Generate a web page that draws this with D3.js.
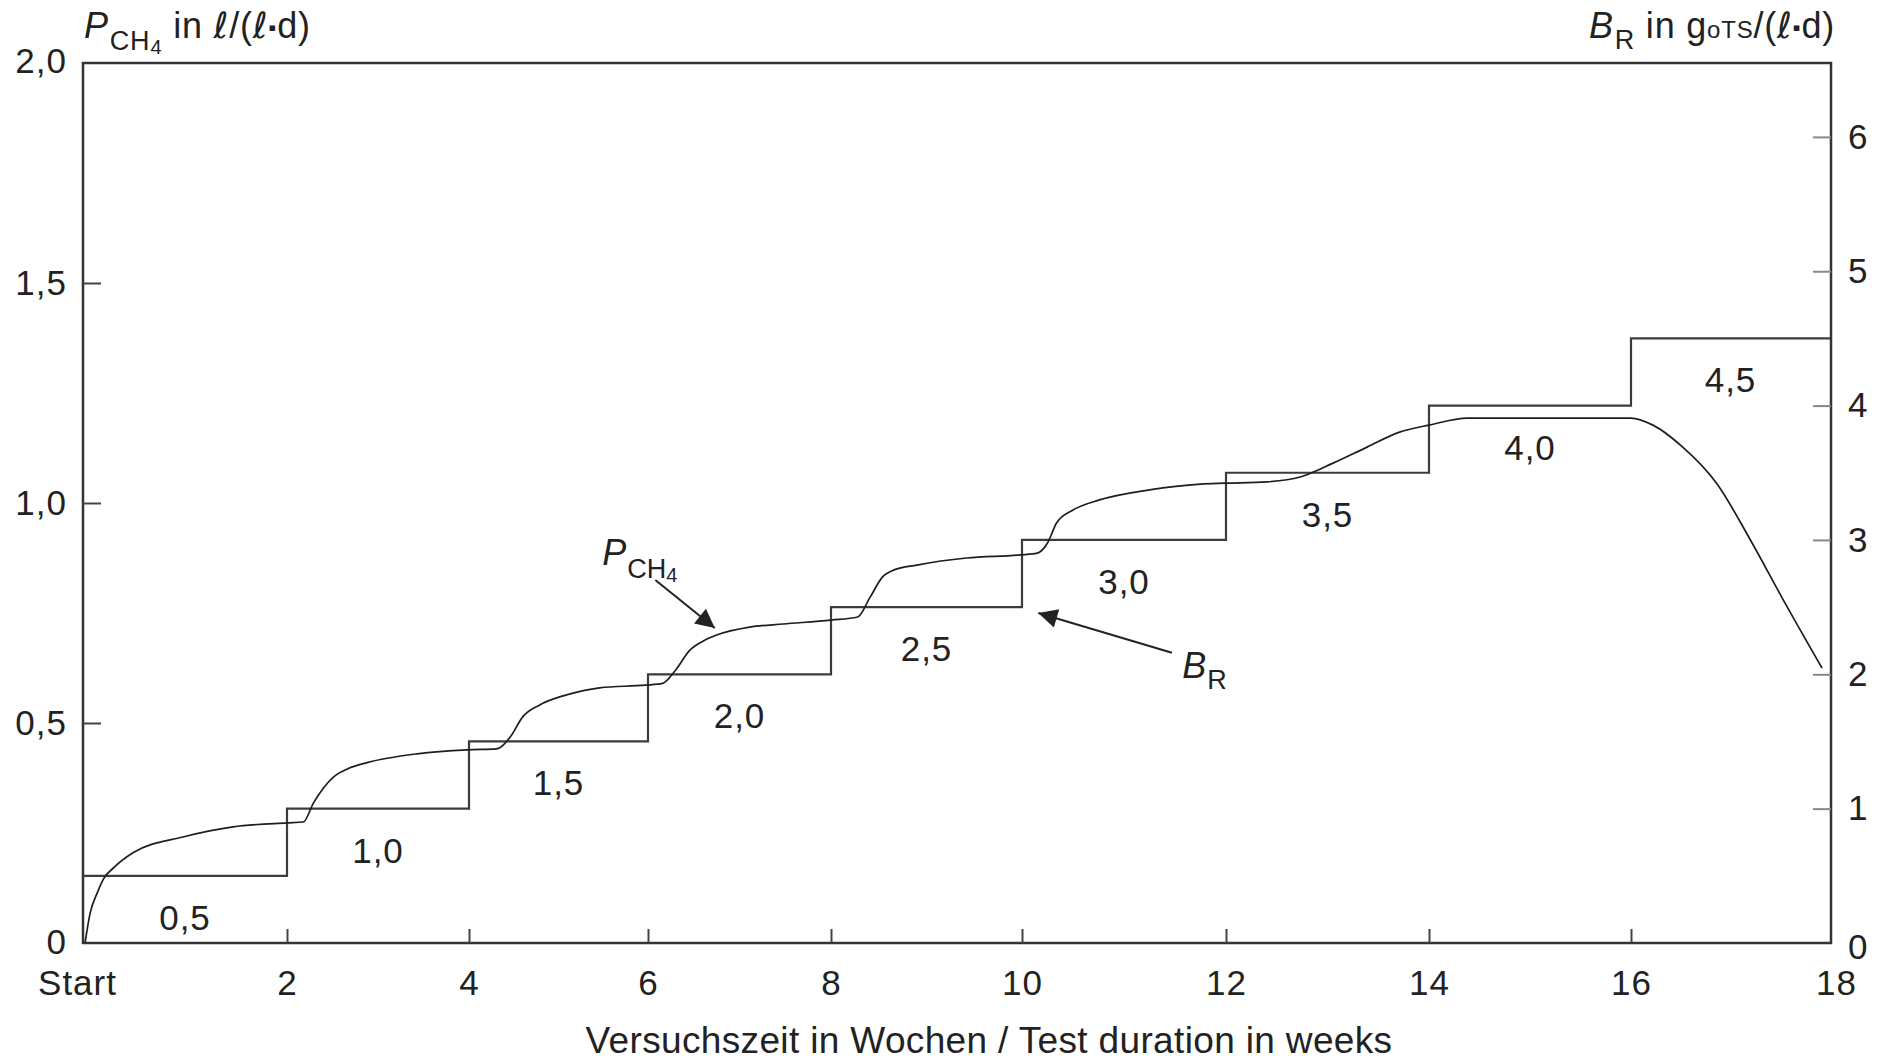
<!DOCTYPE html>
<html><head><meta charset="utf-8">
<script src="https://cdn.jsdelivr.net/npm/d3@7"></script>
<style>
body{margin:0;background:#fff}
svg{display:block}
text{font-family:"Liberation Sans",Arial,Helvetica,sans-serif;fill:#222}
</style>
</head><body>
<svg id="c" width="1877" height="1062"></svg>
<script>
// ---- data ----
const xTickValues = [0, 2, 4, 6, 8, 10, 12, 14, 16, 18];
const xTickLabels = ["Start", "2", "4", "6", "8", "10", "12", "14", "16", "18"];
const leftTickValues = [0, 0.5, 1.0, 1.5, 2.0];
const leftTickLabels = ["0", "0,5", "1,0", "1,5", "2,0"];
const rightTickValues = [0, 1, 2, 3, 4, 5, 6];
const rightTickLabels = ["0", "1", "2", "3", "4", "5", "6"];
const brStartWeeks = [0, 2, 4, 6, 8, 10, 12, 14, 16];
const brValues = [0.5, 1.0, 1.5, 2.0, 2.5, 3.0, 3.5, 4.0, 4.5];
const brLabels = ["0,5", "1,0", "1,5", "2,0", "2,5", "3,0", "3,5", "4,0", "4,5"];
const pchWeeks = [0.02, 0.07, 0.14, 0.2, 0.31, 0.49, 0.98, 1.47, 2.0,
  2.18, 2.29, 2.51, 2.68, 2.88, 3.43, 3.98,
  4.31, 4.46, 4.60, 4.79, 5.09, 5.46, 5.97,
  6.16, 6.30, 6.46, 6.60, 6.75, 7.11, 7.48, 8.0,
  8.28, 8.41, 8.54, 8.66, 8.90, 9.42, 9.98,
  10.15, 10.25, 10.34, 10.50, 10.76, 11.25, 11.75, 12.0,
  12.40, 12.73, 13.05, 13.39, 13.71, 14.0,
  14.38, 15.2, 16.0,
  16.22, 16.52, 16.86, 17.20, 17.53, 17.92];
const pchValues = [0, 0.068, 0.114, 0.145, 0.173, 0.205, 0.241, 0.264, 0.273,
  0.275, 0.318, 0.377, 0.397, 0.41, 0.43, 0.439,
  0.441, 0.468, 0.514, 0.541, 0.564, 0.58, 0.586,
  0.59, 0.62, 0.666, 0.686, 0.70, 0.718, 0.725, 0.734,
  0.741, 0.786, 0.832, 0.848, 0.859, 0.875, 0.882,
  0.886, 0.909, 0.955, 0.984, 1.007, 1.03, 1.043, 1.045,
  1.048, 1.059, 1.09, 1.127, 1.161, 1.177,
  1.193, 1.193, 1.193,
  1.177, 1.127, 1.045, 0.916, 0.78, 0.625];

// ---- layout ----
const L = 83, R = 1831, T = 63, B = 943;
const svg = d3.select("#c");
// hand-drawn x axis: tick spacing is not uniform in the original
const xAxisStops = [83, 287, 469, 648, 831, 1022, 1226, 1429, 1631, 1830];
const x = d3.scaleLinear().domain(xTickValues).range(xAxisStops);
const yL = d3.scaleLinear().domain([0, 2]).range([B, T]);
const yR = d3.scaleLinear().domain([0, 6.55]).range([B, T]);

const FS = 35, LS = 1;
const ink = "#2a2a2a";
const ellFont = '"DejaVu Sans",sans-serif';

// frame
svg.append("rect").attr("x", L).attr("y", T).attr("width", R - L).attr("height", B - T)
  .attr("fill", "none").attr("stroke", "#333").attr("stroke-width", 2.5);

function styleAxis(g, tickColor) {
  g.select(".domain").remove();
  g.selectAll(".tick line").attr("stroke", tickColor).attr("stroke-width", 2);
  g.selectAll(".tick text").attr("font-size", FS).attr("letter-spacing", LS).attr("fill", ink)
    .attr("font-family", '"Liberation Sans",Arial,sans-serif');
}

// bottom axis
const gx = svg.append("g").attr("transform", `translate(0,${B})`)
  .call(d3.axisBottom(x).tickValues(xTickValues).tickSize(-14).tickPadding(27)
    .tickFormat((d, i) => xTickLabels[i]));
styleAxis(gx, "#444");
gx.selectAll(".tick").filter(d => d === 0 || d === 18).select("line").remove();
gx.selectAll(".tick").filter(d => d === 0).select("text").attr("dx", -6);
gx.selectAll(".tick").filter(d => d === 18).select("text").attr("dx", 6);

// left axis
const gl = svg.append("g").attr("transform", `translate(${L},0)`)
  .call(d3.axisLeft(yL).tickValues(leftTickValues).tickSize(-18).tickPadding(16)
    .tickFormat((d, i) => leftTickLabels[i]));
styleAxis(gl, "#444");
gl.selectAll(".tick").filter(d => d === 0 || d === 2).select("line").remove();
gl.selectAll(".tick").filter(d => d === 0).select("text").attr("dy", "0.3em");
gl.selectAll(".tick").filter(d => d === 2).select("text").attr("dy", "0.26em");

// right axis
const gr = svg.append("g").attr("transform", `translate(${R},0)`)
  .call(d3.axisRight(yR).tickValues(rightTickValues).tickSize(-18).tickPadding(17)
    .tickFormat((d, i) => rightTickLabels[i]));
styleAxis(gr, "#888");
gr.selectAll(".tick").filter(d => d === 0).select("line").remove();
gr.selectAll(".tick").filter(d => d === 0).select("text").attr("dy", "0.45em");

// B_R step line
const stepPts = brStartWeeks.map((w, i) => [w, brValues[i]]);
stepPts.push([xTickValues[xTickValues.length - 1], brValues[brValues.length - 1]]);
svg.append("path").datum(stepPts)
  .attr("d", d3.line().x(d => x(d[0])).y(d => yR(d[1])).curve(d3.curveStepAfter))
  .attr("fill", "none").attr("stroke", "#3c3c3c").attr("stroke-width", 2.2);

// step labels
svg.append("g").selectAll("text").data(brLabels).join("text")
  .attr("x", (d, i) => x(brStartWeeks[i] + 1))
  .attr("y", (d, i) => yR(brValues[i]) + 54)
  .attr("text-anchor", "middle").attr("font-size", FS).attr("letter-spacing", LS).attr("fill", ink)
  .text(d => d);

// P_CH4 curve
const curvePts = pchWeeks.map((w, i) => [w, pchValues[i]]);
svg.append("path").datum(curvePts)
  .attr("d", d3.line().x(d => x(d[0])).y(d => yL(d[1])).curve(d3.curveMonotoneX))
  .attr("fill", "none").attr("stroke", "#1e1e1e").attr("stroke-width", 1.7);

// arrows
svg.append("defs").append("marker").attr("id", "ah")
  .attr("viewBox", "0 0 10 10").attr("refX", 10).attr("refY", 5)
  .attr("markerWidth", 28).attr("markerHeight", 19).attr("markerUnits", "userSpaceOnUse")
  .attr("orient", "auto")
  .append("path").attr("d", "M0,0 L10,5 L0,10 Z").attr("fill", "#222");

// P_CH4 annotation (left-axis units)
svg.append("line")
  .attr("x1", x(6.08)).attr("y1", yL(0.825)).attr("x2", x(6.73)).attr("y2", yL(0.716))
  .attr("stroke", "#222").attr("stroke-width", 2).attr("marker-end", "url(#ah)");
const pl = svg.append("text").attr("x", x(5.49)).attr("y", yL(0.859)).attr("font-size", 36).attr("fill", ink);
pl.append("tspan").attr("font-style", "italic").text("P");
pl.append("tspan").attr("dx", 1).attr("dy", 13).attr("font-size", 27).text("CH");
pl.append("tspan").attr("dy", 4).attr("font-size", 20).text("4");

// B_R annotation (right-axis units)
svg.append("line")
  .attr("x1", x(11.47)).attr("y1", yR(2.16)).attr("x2", x(10.16)).attr("y2", yR(2.456))
  .attr("stroke", "#222").attr("stroke-width", 2).attr("marker-end", "url(#ah)");
const bl = svg.append("text").attr("x", x(11.57)).attr("y", yR(1.97)).attr("font-size", 36).attr("fill", ink);
bl.append("tspan").attr("font-style", "italic").text("B");
bl.append("tspan").attr("dx", 1).attr("dy", 11).attr("font-size", 27).text("R");

// left header
const lh = svg.append("text").attr("x", 84).attr("y", 38).attr("font-size", 36)
  .attr("letter-spacing", 0.8).attr("fill", ink);
lh.append("tspan").attr("font-style", "italic").text("P");
lh.append("tspan").attr("dx", 1).attr("dy", 12).attr("font-size", 27).text("CH");
lh.append("tspan").attr("dy", 4).attr("font-size", 20).text("4");
lh.append("tspan").attr("dy", -16).text(" in ");
lh.append("tspan").attr("font-family", ellFont).attr("font-style", "italic").attr("font-weight", 300).text("ℓ");
lh.append("tspan").text("/(");
lh.append("tspan").attr("font-family", ellFont).attr("font-style", "italic").attr("font-weight", 300).text("ℓ");
lh.append("tspan").attr("font-size", 22).attr("dy", -3).text("▪");
lh.append("tspan").attr("dy", 3).text("d)");

// right header
const rh = svg.append("text").attr("x", 1835).attr("y", 38).attr("font-size", 36)
  .attr("letter-spacing", 0.8).attr("text-anchor", "end").attr("fill", ink);
rh.append("tspan").attr("font-style", "italic").text("B");
rh.append("tspan").attr("dx", 1).attr("dy", 11).attr("font-size", 27).text("R");
rh.append("tspan").attr("dy", -11).text(" in g");
rh.append("tspan").attr("font-size", 24).text("oTS");
rh.append("tspan").text("/(");
rh.append("tspan").attr("font-family", ellFont).attr("font-style", "italic").attr("font-weight", 300).text("ℓ");
rh.append("tspan").attr("font-size", 22).attr("dy", -3).text("▪");
rh.append("tspan").attr("dy", 3).text("d)");

// x axis title
svg.append("text").attr("x", 989).attr("y", 1053).attr("text-anchor", "middle")
  .attr("font-size", 37).attr("letter-spacing", 0.35).attr("fill", ink)
  .text("Versuchszeit in Wochen / Test duration in weeks");
</script>
</body></html>
